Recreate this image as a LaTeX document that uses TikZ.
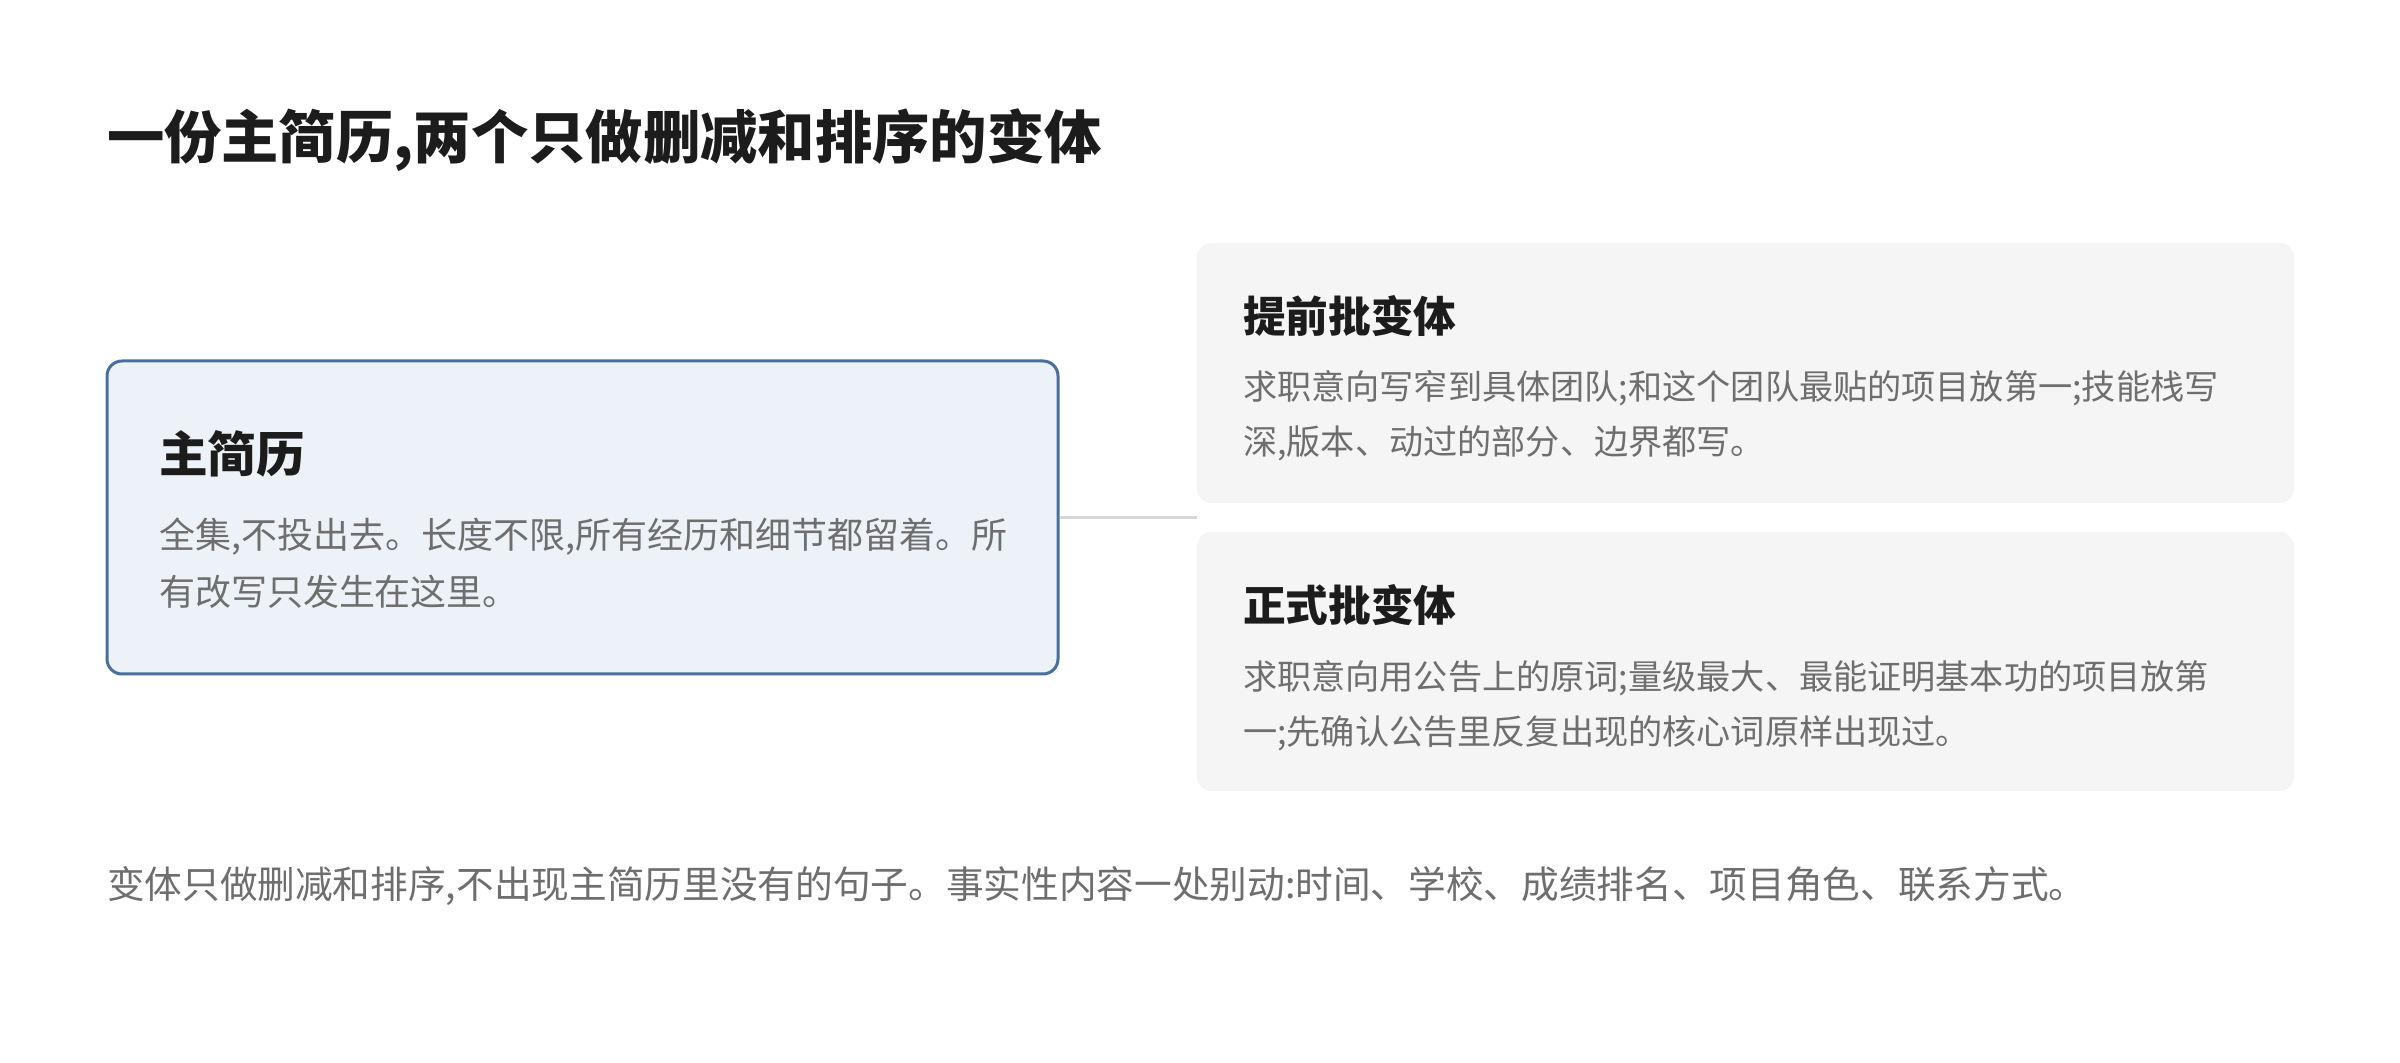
\documentclass[tikz,border=0pt]{standalone}
\usepackage{fontspec}
\setmainfont{Noto Sans CJK SC}
\definecolor{ink}{HTML}{1C1C1C}
\definecolor{body}{HTML}{6E6E6E}
\definecolor{mainfill}{HTML}{EDF2F8}
\definecolor{mainedge}{HTML}{4A6F9E}
\definecolor{varfill}{HTML}{F5F5F5}
\definecolor{linkgray}{HTML}{D6D6D6}
\begin{document}
\begin{tikzpicture}[x=0.3pt,y=-0.3pt,
  txt/.style={anchor=base west,inner sep=0pt,outer sep=0pt},
  titletxt/.style={txt,text=ink,font=\fontsize{17.2pt}{20pt}\selectfont\bfseries},
  mainhead/.style={txt,text=ink,font=\fontsize{14.6pt}{17pt}\selectfont\bfseries},
  varhead/.style={txt,text=ink,font=\fontsize{12.8pt}{15pt}\selectfont\bfseries},
  mainbody/.style={txt,text=body,font=\fontsize{10.8pt}{13pt}\selectfont},
  varbody/.style={txt,text=body,font=\fontsize{10.25pt}{12pt}\selectfont},
  notetxt/.style={txt,text=body,font=\fontsize{11.3pt}{14pt}\selectfont},
  mainbox/.style={draw=mainedge,fill=mainfill,line width=0.9pt,rounded corners=4.5pt,inner sep=0pt},
  varbox/.style={draw=none,fill=varfill,rounded corners=4.2pt,inner sep=0pt},
  conn/.style={draw=linkgray,line width=0.9pt}
]
\useasboundingbox (0,0) rectangle (2400,1063);
\fill[white] (0,0) rectangle (2400,1063);

\node[titletxt] (title) at (107,159) {一份主简历,两个只做删减和排序的变体};

% boxes
\node[mainbox,minimum width=285.3pt,minimum height=93.9pt] (main) at (582.5,517.5) {};
\node[varbox,minimum width=329.1pt,minimum height=78pt] (early) at (1745.5,373) {};
\node[varbox,minimum width=329.1pt,minimum height=77.7pt] (formal) at (1745.5,661.5) {};

\coordinate (join) at (1197,517.5);
\draw[conn] (main.east) -- (join);

% main box text
\node[mainhead] (mainh) at (159,473) {主简历};
\node[mainbody] (mainb1) at (159,549) {全集,不投出去。长度不限,所有经历和细节都留着。所};
\node[mainbody] (mainb2) at (159,606) {有改写只发生在这里。};

% early variant
\node[varhead] (earlyh) at (1243,333) {提前批变体};
\node[varbody] (earlyb1) at (1243,400) {求职意向写窄到具体团队;和这个团队最贴的项目放第一;技能栈写};
\node[varbody] (earlyb2) at (1243,455) {深,版本、动过的部分、边界都写。};

% formal variant
\node[varhead] (formalh) at (1243,622) {正式批变体};
\node[varbody] (formalb1) at (1243,690) {求职意向用公告上的原词;量级最大、最能证明基本功的项目放第};
\node[varbody] (formalb2) at (1243,745) {一;先确认公告里反复出现的核心词原样出现过。};

% note
\node[notetxt] (note) at (107,898) {变体只做删减和排序,不出现主简历里没有的句子。事实性内容一处别动:时间、学校、成绩排名、项目角色、联系方式。};
\end{tikzpicture}
\end{document}
